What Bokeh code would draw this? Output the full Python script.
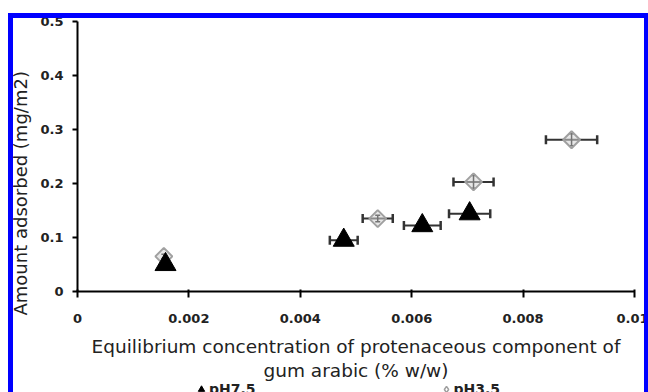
import math
from bokeh.plotting import figure
from bokeh.layouts import column
from bokeh.models import (Range1d, FixedTicker, Whisker, ColumnDataSource, Legend,
                          LegendItem, TeeHead, InlineStyleSheet, Title)
from bokeh.embed import file_html
from bokeh.resources import INLINE

# ---- data ----
x_ticks = [0, 0.002, 0.004, 0.006, 0.008, 0.01]
x_tick_labels = ["0", "0.002", "0.004", "0.006", "0.008", "0.01"]
y_ticks = [0, 0.1, 0.2, 0.3, 0.4, 0.5]
y_tick_labels = ["0", "0.1", "0.2", "0.3", "0.4", "0.5"]

ph75_x = [0.00158, 0.00478, 0.00619, 0.00704]
ph75_y = [0.050, 0.095, 0.122, 0.144]
ph75_xerr = [0.0, 0.00025, 0.00033, 0.00037]

ph35_x = [0.00155, 0.00539, 0.00711, 0.00887]
ph35_y = [0.065, 0.135, 0.203, 0.281]
ph35_xerr = [0.0, 0.00027, 0.00036, 0.00046]
ph35_yerr = [0.004, 0.006, 0.012, 0.011]

series_names = ["pH7.5", "pH3.5"]
x_title = "Equilibrium concentration of protenaceous component of\ngum arabic (% w/w)"
y_title = "Amount adsorbed (mg/m2)"

FONT = "DejaVu Sans"

frame_css = InlineStyleSheet(css="""
:host { position: relative; }
:host::after {
  content: "";
  position: absolute;
  left: 8px; top: 13px; width: 640px; height: 379px;
  box-sizing: border-box;
  border-left: 5px solid #0000ff;
  border-top: 5px solid #0000ff;
  border-right: 4px solid #0000ff;
  pointer-events: none;
  z-index: 10;
}
""")

p = figure(width=648, height=384, output_backend="svg", toolbar_location=None,
           x_range=Range1d(0, 0.01), y_range=Range1d(0, 0.5),
           min_border_left=77, min_border_right=14, min_border_top=21, min_border_bottom=93)
p.outline_line_color = None
p.grid.visible = False
p.background_fill_color = "white"
p.border_fill_color = "white"

# axes
p.xaxis.ticker = FixedTicker(ticks=x_ticks)
p.yaxis.ticker = FixedTicker(ticks=y_ticks)
p.xaxis.major_label_overrides = {t: l for t, l in zip(x_ticks, x_tick_labels)}
p.yaxis.major_label_overrides = {t: l for t, l in zip(y_ticks, y_tick_labels)}
for ax in (p.xaxis, p.yaxis):
    ax.axis_line_width = 2
    ax.axis_line_color = "black"
    ax.major_tick_line_width = 2
    ax.major_tick_line_color = "black"
    ax.minor_tick_line_color = None
    ax.major_label_text_font = FONT
    ax.major_label_text_font_style = "bold"
    ax.major_label_text_font_size = "13px"
    ax.major_label_text_color = "#222222"
    ax.axis_label_text_font = FONT
    ax.axis_label_text_font_style = "normal"
    ax.axis_label_text_color = "#222222"
p.xaxis.major_tick_in = 2
p.xaxis.major_tick_out = 6
p.yaxis.major_tick_in = 0
p.yaxis.major_tick_out = 5
p.xaxis.major_label_standoff = 16
p.yaxis.major_label_standoff = 9
p.xaxis.axis_label = x_title
p.xaxis.axis_label_text_font_size = "18.5px"
p.xaxis.axis_label_text_line_height = 1.15
p.xaxis.axis_label_standoff = 10

# y-axis title, placed lower than the frame centre as in the original
p.add_layout(Title(text=y_title, align="left", offset=-24, standoff=14,
                   text_font=FONT, text_font_size="18px", text_font_style="normal",
                   text_color="#222222"), "left")

src75 = ColumnDataSource(dict(x=ph75_x, y=ph75_y,
                              xl=[a - e for a, e in zip(ph75_x, ph75_xerr)],
                              xu=[a + e for a, e in zip(ph75_x, ph75_xerr)]))
src35 = ColumnDataSource(dict(x=ph35_x, y=ph35_y,
                              yl=[a - e for a, e in zip(ph35_y, ph35_yerr)],
                              yu=[a + e for a, e in zip(ph35_y, ph35_yerr)]))
idx35 = [i for i, e in enumerate(ph35_xerr) if e > 0]
src35x = ColumnDataSource(dict(y=[ph35_y[i] for i in idx35],
                               xl=[ph35_x[i] - ph35_xerr[i] for i in idx35],
                               xu=[ph35_x[i] + ph35_xerr[i] for i in idx35]))

bar_col = "#333333"

def tee(sz, lw):
    return TeeHead(size=sz, line_width=lw, line_color=bar_col)

w75 = Whisker(source=src75, base="y", lower="xl", upper="xu", dimension="width",
              line_color=bar_col, line_width=2, level="underlay",
              lower_head=tee(9, 2.5), upper_head=tee(9, 2.5))
p.add_layout(w75)

dia_style = dict(fill_color="#d4d4d4", fill_alpha=0.55, line_color="#a0a0a0", line_width=2)
tri_style = dict(fill_color="black", line_color="black")

p.scatter("x", "y", source=src35, marker="square", angle=math.pi / 4, size=12, **dia_style)

w35 = Whisker(source=src35x, base="y", lower="xl", upper="xu", dimension="width",
              line_color=bar_col, line_width=2,
              lower_head=tee(9, 2.5), upper_head=tee(9, 2.5))
p.add_layout(w35)
w35v = Whisker(source=src35, base="x", lower="yl", upper="yu", dimension="height",
               line_color="black", line_width=1.5,
               lower_head=TeeHead(size=5, line_width=1.5, line_color="black"),
               upper_head=TeeHead(size=5, line_width=1.5, line_color="black"))
p.add_layout(w35v)

p.scatter("x", "y", source=src75, marker="triangle", size=21, **tri_style)

# ---- legend strip below the chart (same data, out of view) ----
pl = figure(width=648, height=8, output_backend="svg", toolbar_location=None,
            x_axis_type=None, y_axis_type=None, min_border=0,
            x_range=Range1d(1, 2), y_range=Range1d(1, 2))
pl.outline_line_color = None
pl.grid.visible = False
pl.border_fill_color = "white"
lr75 = pl.scatter("x", "y", source=src75, marker="triangle", **tri_style)
lr35 = pl.scatter("x", "y", source=src35, marker="diamond",
                  fill_color="white", line_color="#a0a0a0", line_width=1.5)
legend = Legend(items=[LegendItem(label=series_names[0], renderers=[lr75], index=0),
                       LegendItem(label=series_names[1], renderers=[lr35], index=0)],
                orientation="horizontal", location=(116, -5),
                glyph_width=16, glyph_height=16, label_standoff=-3, spacing=182,
                padding=0, margin=0, border_line_color=None, background_fill_alpha=0,
                label_text_font=FONT, label_text_font_style="bold",
                label_text_font_size="14px", label_text_color="#222222",
                label_height=16)
pl.add_layout(legend)

layout = column(p, pl, spacing=0, stylesheets=[frame_css])
open("out.html", "w").write(file_html(layout, INLINE))
